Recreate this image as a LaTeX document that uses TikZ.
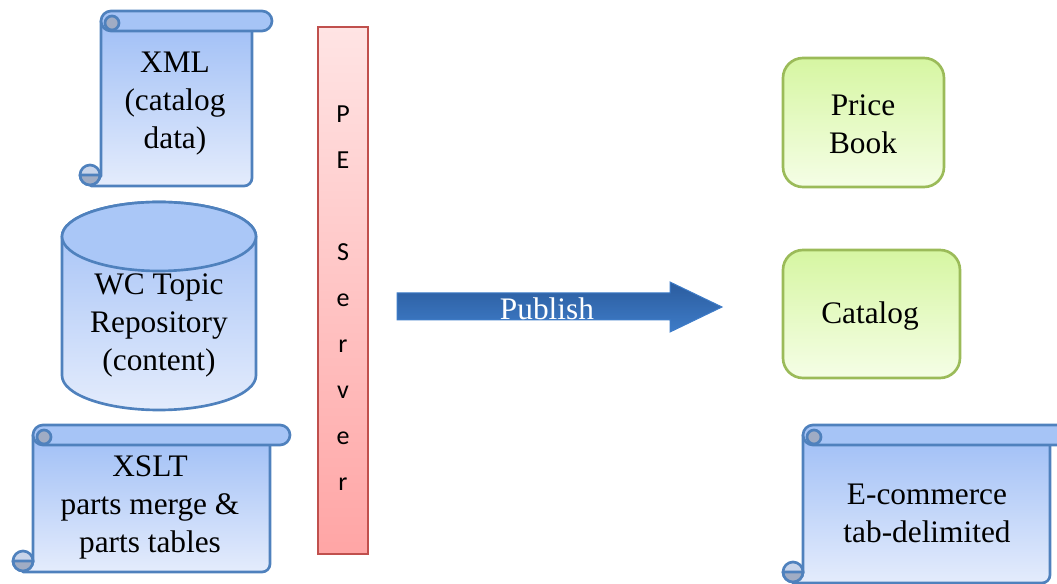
\documentclass[tikz,border=0pt]{standalone}
\usepackage{fontspec}
\setmainfont{Liberation Serif}
\newfontfamily\calibri{Carlito}

\definecolor{scrollblue}{RGB}{79,129,189}
\definecolor{scrolltop}{RGB}{160,191,246}
\definecolor{scrollbot}{RGB}{228,236,252}
\definecolor{bandblue}{RGB}{166,196,246}
\definecolor{curlgrey}{RGB}{160,172,196}
\definecolor{curllight}{RGB}{200,212,234}
\definecolor{cantop}{RGB}{170,199,247}
\definecolor{pered}{RGB}{192,80,77}
\definecolor{petop}{RGB}{255,228,228}
\definecolor{pebot}{RGB}{255,165,165}
\definecolor{boxgreen}{RGB}{155,187,89}
\definecolor{greentop}{RGB}{214,246,162}
\definecolor{greenbot}{RGB}{245,254,230}
\definecolor{arrowtop}{RGB}{43,92,158}
\definecolor{arrowbot}{RGB}{62,124,200}

\tikzset{every picture/.style={line width=0.75pt}}
\tikzset{
  scrollline/.style={draw=scrollblue, line width=2pt, line join=round},
  scrollbody/.style={scrollline, top color=scrolltop, bottom color=scrollbot},
  scrollband/.style={scrollline, fill=bandblue},
  scrollcurl/.style={scrollline, fill=curlgrey},
  pebar/.style={draw=pered, line width=2pt, top color=petop, bottom color=pebot},
  greenbox/.style={draw=boxgreen, line width=2pt, rounded corners=15pt, top color=greentop, bottom color=greenbot},
  pubarrow/.style={draw=arrowbot, line width=0.75pt, top color=arrowtop, bottom color=arrowbot},
  bigtext/.style={align=center, inner sep=0.75pt, font=\fontsize{23.5}{28.5}\selectfont},
}

\begin{document}
\begin{tikzpicture}[x=0.75pt,y=0.75pt,yscale=-1,xscale=1]
\useasboundingbox (0,0) rectangle (1057,584);
\clip (0,0) rectangle (1057,584);

%Shape: Horizontal Scroll [xml]
\draw[scrollbody] (101,21) -- (101,176) -- (91,186) -- (244,186) arc[start angle=90,end angle=0,radius=8] -- (252,21) -- cycle;
\draw[scrollband] (111,11) -- (262,11) arc[start angle=-90,end angle=90,radius=10] -- (111,31) arc[start angle=90,end angle=270,radius=10] -- cycle;
\draw[scrollcurl] (112,23) circle (7);
\draw[scrollline, fill=curllight] (90,175) circle (10);
\draw[scrollcurl] (80,175) arc[start angle=180,end angle=0,radius=10] -- cycle;

%Shape: Can [wc]
\draw[scrollbody] (62,236.5) -- (62,375.5) arc[start angle=180,end angle=0,x radius=97,y radius=34.5] -- (256,236.5) arc[start angle=0,end angle=-180,x radius=97,y radius=34.5] -- cycle;
\draw[scrollline, fill=cantop] (159,236.5) ellipse [x radius=97, y radius=34.5];

%Shape: Horizontal Scroll [xslt]
\draw[scrollbody] (33,435) -- (33,562) -- (23,572) -- (262,572) arc[start angle=90,end angle=0,radius=8] -- (270,435) -- cycle;
\draw[scrollband] (43,425) -- (280,425) arc[start angle=-90,end angle=90,radius=10] -- (43,445) arc[start angle=90,end angle=270,radius=10] -- cycle;
\draw[scrollcurl] (44,437) circle (7);
\draw[scrollline, fill=curllight] (23,561) circle (10);
\draw[scrollcurl] (13,561) arc[start angle=180,end angle=0,radius=10] -- cycle;

%Shape: Rectangle [pe server]
\draw[pebar] (318,27) rectangle (368,554);

%Shape: Right Arrow [publish]
\draw[pubarrow] (397,293) -- (670,293) -- (670,282) -- (722,307) -- (670,332) -- (670,320) -- (397,320) -- cycle;

%Shape: Rounded Rect [price book]
\draw[greenbox] (783,58) rectangle (944,187);
%Shape: Rounded Rect [catalog]
\draw[greenbox] (783,250) rectangle (960,378);

%Shape: Horizontal Scroll [e-commerce]
\draw[scrollbody] (803,435) -- (803,573) -- (793,583) -- (1042,583) arc[start angle=90,end angle=0,radius=8] -- (1050,435) -- cycle;
\draw[scrollband] (813,425) -- (1060,425) arc[start angle=-90,end angle=90,radius=10] -- (813,445) arc[start angle=90,end angle=270,radius=10] -- cycle;
\draw[scrollcurl] (814,437) circle (7);
\draw[scrollline, fill=curllight] (793,572) circle (10);
\draw[scrollcurl] (783,572) arc[start angle=180,end angle=0,radius=10] -- cycle;

% Text Node
\node[bigtext] (xml) at (175,104) {XML\\(catalog\\data)};
% Text Node
\node[bigtext] (wc) at (159,325) {WC Topic\\Repository\\(content)};
% Text Node
\node[bigtext] (xslt) at (150,507) {XSLT\\parts merge \&\\parts tables};
% Text Node
\node[align=center, inner sep=0.75pt, font=\calibri\fontsize{19.5}{34.5}\selectfont] (pe) at (343,298) {P\\E\\[34.5pt]S\\e\\r\\v\\e\\r};
% Text Node
\node[bigtext, text=white] (publish) at (547,309) {Publish};
% Text Node
\node[bigtext] (price) at (863,124) {Price\\Book};
% Text Node
\node[bigtext] (catalog) at (870,316) {Catalog};
% Text Node
\node[bigtext] (ecom) at (927,513) {E-commerce\\tab-delimited};

\end{tikzpicture}
\end{document}
